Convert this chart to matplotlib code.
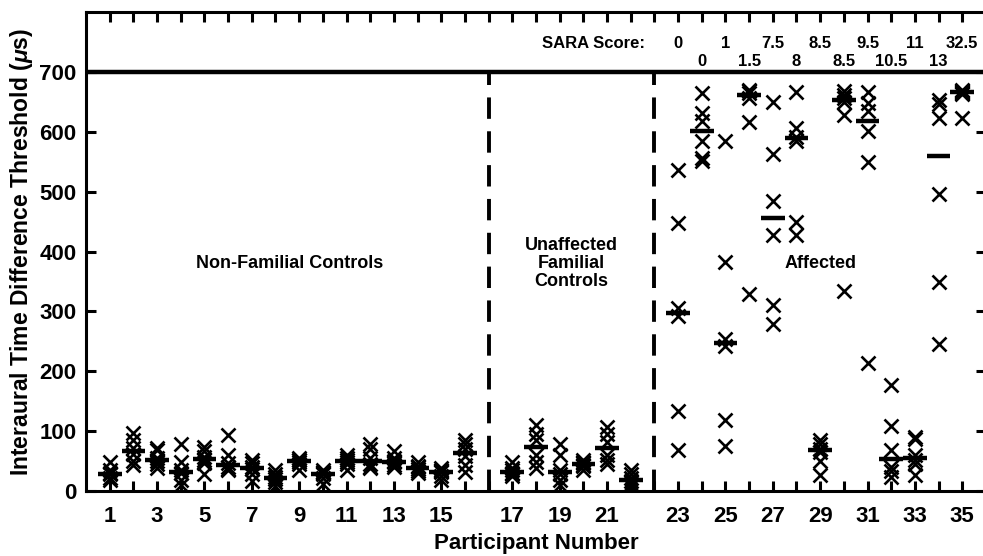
import matplotlib.pyplot as plt

plt.rcParams['font.family'] = ['Liberation Sans', 'DejaVu Sans']
plt.rcParams['font.weight'] = 'bold'
plt.rcParams['axes.labelweight'] = 'bold'
plt.rcParams['mathtext.fontset'] = 'custom'
plt.rcParams['mathtext.it'] = 'Liberation Sans:bold:italic'
plt.rcParams['mathtext.rm'] = 'Liberation Sans:bold'

# thresholds per participant (6 runs each)
nonfam_trials = [
    [48, 35, 30, 28, 22, 18],
    [97, 85, 72, 62, 50, 43],
    [72, 68, 55, 50, 45, 38],
    [79, 49, 35, 30, 18, 10],
    [74, 66, 57, 52, 46, 28],
    [93, 60, 47, 40, 37, 35],
    [52, 46, 40, 36, 29, 16],
    [35, 28, 23, 20, 15, 8],
    [55, 52, 51, 48, 45, 35],
    [35, 32, 30, 28, 22, 12],
    [60, 55, 52, 48, 45, 35],
    [79, 70, 55, 45, 40, 38],
    [66, 55, 50, 48, 43, 40],
    [49, 42, 40, 36, 33, 30],
    [38, 35, 33, 31, 25, 18],
    [85, 79, 70, 58, 43, 32],
]
nonfam_median = [29, 67, 52, 32, 54, 43, 38, 21, 50, 29, 50, 50, 49, 38, 32, 64]

fam_trials = [
    [49, 38, 35, 30, 28, 25],
    [110, 96, 85, 60, 49, 38],
    [79, 60, 35, 28, 18, 10],
    [52, 48, 46, 44, 42, 35],
    [107, 96, 82, 60, 52, 45],
    [35, 29, 21, 17, 12, 8],
]
fam_median = [32, 74, 31, 45, 71, 19]

affected_trials = [
    [537, 447, 305, 292, 133, 68],
    [665, 632, 619, 585, 557, 552],
    [585, 382, 254, 242, 118, 75],
    [670, 668, 665, 657, 616, 329],
    [650, 563, 485, 428, 310, 279],
    [666, 607, 592, 585, 449, 428],
    [85, 78, 70, 65, 50, 27],
    [668, 662, 656, 650, 629, 334],
    [666, 649, 635, 602, 549, 214],
    [177, 109, 68, 40, 33, 24],
    [90, 87, 60, 52, 45, 27],
    [654, 647, 624, 496, 349, 246],
    [670, 668, 667, 665, 664, 624],
]
affected_median = [297, 602, 247, 661, 456, 589, 68, 653, 618, 53, 55, 560, 667]

sara_scores = ['0', '0', '1', '1.5', '7.5', '8', '8.5', '8.5', '9.5', '10.5',
               '11', '13', '32.5']

trials = nonfam_trials + fam_trials + affected_trials
medians = nonfam_median + fam_median + affected_median
participants = list(range(1, len(trials) + 1))


def position(n):
    # leave an empty slot between the groups for the dashed separators
    return n + (n > 16) + (n > 22)


fig, ax = plt.subplots(figsize=(9.83, 5.56), dpi=100)
fig.subplots_adjust(left=0.0875, right=1.003, bottom=0.117, top=0.978)

for n, vals, med in zip(participants, trials, medians):
    p = position(n)
    ax.plot([p] * len(vals), vals, 'x', color='k', ms=9.5, mew=1.9)
    ax.hlines(med, p - 0.5, p + 0.5, color='k', lw=3.2)

ax.vlines([17, 24], 0, 700, colors='k', lw=2.8, linestyles=(0, (5.5, 3.2)))
ax.axhline(700, color='k', lw=3.2)

# SARA scores for the affected group, staggered in two rows
ax.text(position(23) - 1.4, 747, 'SARA Score:', ha='right', va='center', fontsize=12)
for i, s in enumerate(sara_scores):
    n = 23 + i
    ax.text(position(n), 747 if i % 2 == 0 else 718, s, ha='center',
            va='center', fontsize=12)

ax.text(8.6, 380, 'Non-Familial Controls', ha='center', va='center', fontsize=13)
ax.text(20.5, 380, 'Unaffected\nFamilial\nControls', ha='center', va='center',
        fontsize=13, linespacing=1.1)
ax.text(31, 380, 'Affected', ha='center', va='center', fontsize=13)

ax.set_xlim(0, 38)
ax.set_ylim(0, 800)
ax.set_yticks(range(0, 701, 100))
ticks = list(range(1, 38))
labels = [''] * len(ticks)
for n in participants:
    if n % 2 == 1:
        labels[position(n) - 1] = str(n)
ax.set_xticks(ticks)
ax.set_xticklabels(labels)
ax.tick_params(direction='in', length=7, width=2.2, top=True, right=True,
               labelsize=16)
ax.tick_params(axis='x', pad=11)
ax.tick_params(axis='y', pad=7)
for sp in ax.spines.values():
    sp.set_linewidth(2.2)

ax.set_xlabel('Participant Number', fontsize=16, labelpad=4)
ax.set_ylabel(r'Interaural Time Difference Threshold ($\mu$s)', fontsize=16.5,
              labelpad=3)

plt.savefig('out.png', dpi=100)
